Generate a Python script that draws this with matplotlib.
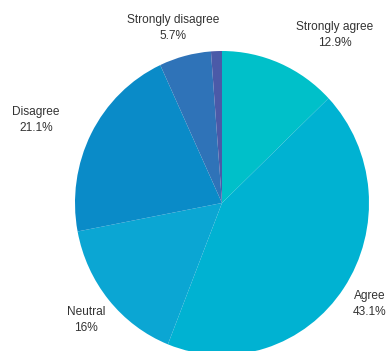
import matplotlib
matplotlib.use("Agg")
import matplotlib.pyplot as plt

categories = ["Strongly agree", "Agree", "Neutral", "Disagree", "Strongly disagree", "Other"]
values = [12.9, 43.1, 16.0, 21.1, 5.7, 1.2]
value_labels = ["12.9%", "43.1%", "16%", "21.1%", "5.7%", ""]
show_label = [True, True, True, True, True, False]
colors = ["#00c0c9", "#00b2d2", "#0ba6d3", "#0a8bc8", "#2f73b8", "#4b5aa8"]

# label anchor positions in pixels (x, y from top)
label_pos = [(335, 35), (370, 304), (86, 320), (36, 120), (173, 28), None]

W, H = 391, 351
fig = plt.figure(figsize=(W / 100, H / 100), dpi=100)
cx, cy = 222, 203
rx, ry = 147, 152
ax = fig.add_axes([(cx - rx) / W, (H - cy - ry) / H, 2 * rx / W, 2 * ry / H])
ax.pie(values, colors=colors, startangle=90, counterclock=False, radius=1,
       wedgeprops=dict(linewidth=0))
ax.set_xlim(-1, 1)
ax.set_ylim(-1, 1)
ax.set_aspect("auto")
ax.axis("off")

for cat, lab, pos, show in zip(categories, value_labels, label_pos, show_label):
    if not show:
        continue
    fig.text(pos[0] / W, 1 - pos[1] / H, f"{cat}\n{lab}", ha="center", va="center",
             fontsize=8.6, family="Liberation Sans", color="#333333", linespacing=1.45)

fig.savefig("out.png", dpi=100)
